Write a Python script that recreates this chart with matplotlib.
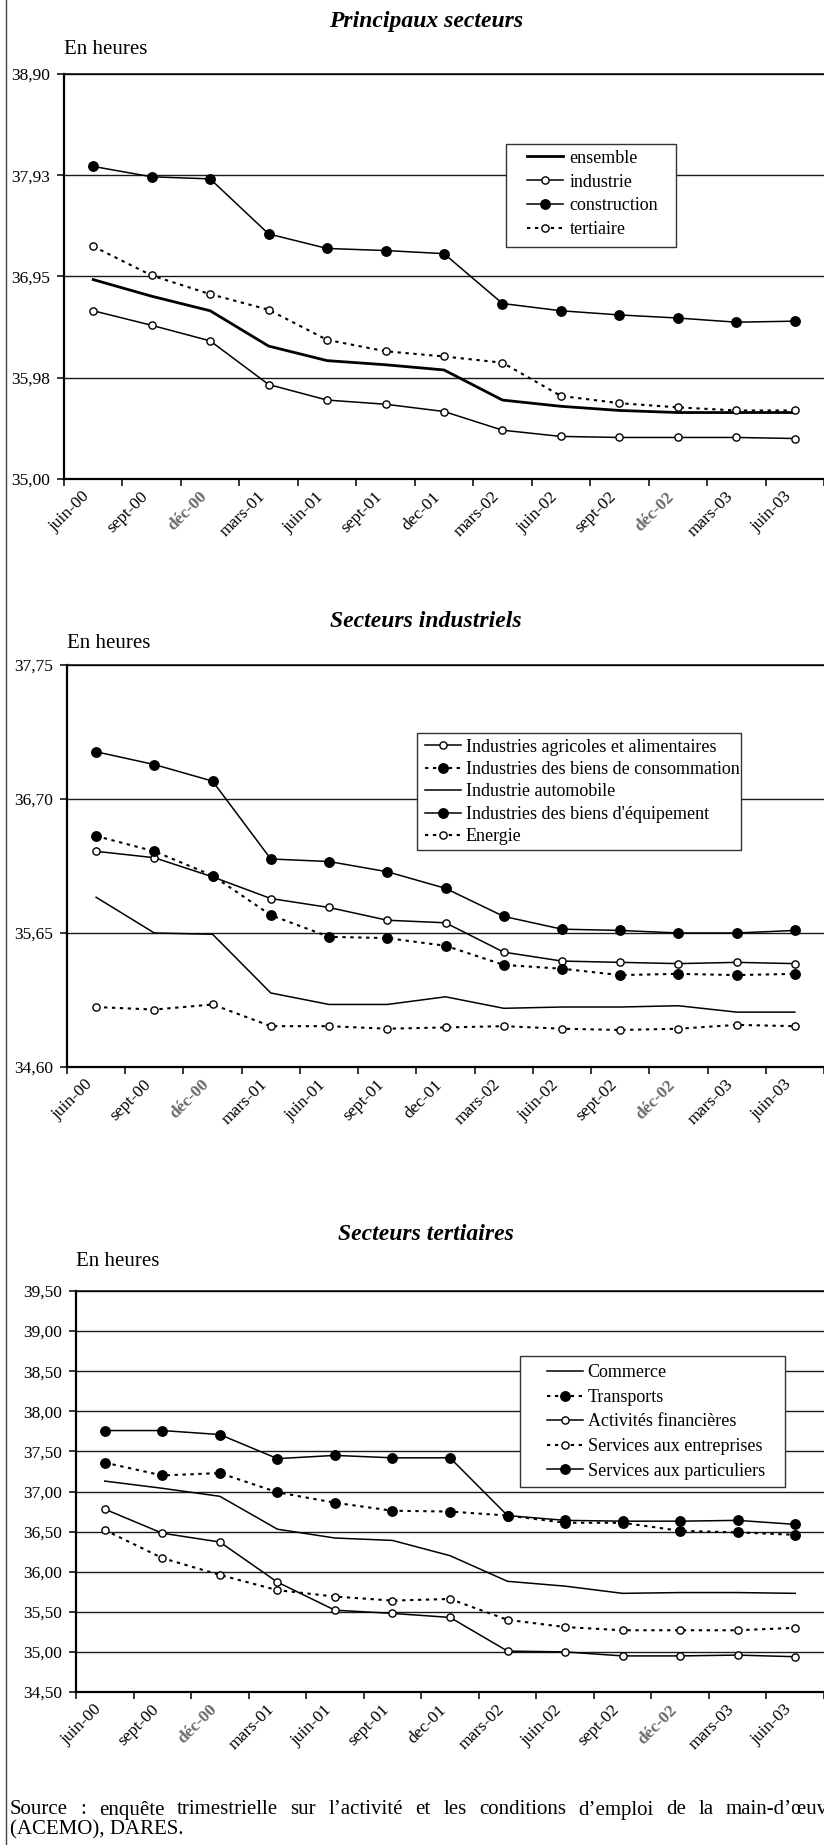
import matplotlib
matplotlib.use("Agg")
import matplotlib.pyplot as plt
import matplotlib.transforms as mtransforms
from matplotlib.lines import Line2D
from matplotlib.patches import Rectangle
import numpy as np

W, H, DPI = 824, 1845, 100

# ---------------- data ----------------
periods = ["juin-00", "sept-00", "déc-00", "mars-01", "juin-01", "sept-01", "dec-01",
           "mars-02", "juin-02", "sept-02", "déc-02", "mars-03", "juin-03"]
smudged = ["déc-00", "déc-02"]

# Principaux secteurs
ensemble = [36.92, 36.76, 36.62, 36.28, 36.14, 36.10, 36.05, 35.76, 35.70, 35.66, 35.64, 35.64, 35.64]
industrie = [36.62, 36.48, 36.33, 35.91, 35.76, 35.72, 35.65, 35.47, 35.41, 35.40, 35.40, 35.40, 35.39]
construction = [38.01, 37.91, 37.89, 37.36, 37.22, 37.20, 37.17, 36.69, 36.62, 36.58, 36.55, 36.51, 36.52]
tertiaire = [37.24, 36.96, 36.78, 36.63, 36.34, 36.23, 36.18, 36.12, 35.80, 35.73, 35.69, 35.66, 35.66]

# Secteurs industriels
agricoles = [36.29, 36.24, 36.09, 35.92, 35.85, 35.75, 35.73, 35.50, 35.43, 35.42, 35.41, 35.42, 35.41]
consommation = [36.41, 36.29, 36.10, 35.79, 35.62, 35.61, 35.55, 35.40, 35.37, 35.32, 35.33, 35.32, 35.33]
automobile = [35.93, 35.65, 35.64, 35.18, 35.09, 35.09, 35.15, 35.06, 35.07, 35.07, 35.08, 35.03, 35.03]
equipement = [37.07, 36.97, 36.84, 36.23, 36.21, 36.13, 36.00, 35.78, 35.68, 35.67, 35.65, 35.65, 35.67]
energie = [35.07, 35.05, 35.09, 34.92, 34.92, 34.90, 34.91, 34.92, 34.90, 34.89, 34.90, 34.93, 34.92]

# Secteurs tertiaires
commerce = [37.13, 37.04, 36.94, 36.53, 36.42, 36.39, 36.20, 35.88, 35.82, 35.73, 35.74, 35.74, 35.73]
transports = [37.36, 37.20, 37.23, 36.99, 36.86, 36.76, 36.75, 36.70, 36.61, 36.61, 36.51, 36.49, 36.46]
financieres = [36.78, 36.48, 36.37, 35.87, 35.52, 35.48, 35.43, 35.01, 35.00, 34.95, 34.95, 34.96, 34.94]
entreprises = [36.52, 36.17, 35.96, 35.77, 35.69, 35.64, 35.66, 35.40, 35.31, 35.27, 35.27, 35.27, 35.30]
particuliers = [37.76, 37.76, 37.71, 37.41, 37.45, 37.42, 37.42, 36.70, 36.64, 36.63, 36.63, 36.64, 36.59]

titles = ["Principaux secteurs", "Secteurs industriels", "Secteurs tertiaires"]
unit_label = "En heures"
source_line1 = "Source : enquête trimestrielle sur l’activité et les conditions d’emploi de la main-d’œuv"
source_line2 = "(ACEMO), DARES."

# ---------------- styles ----------------
plt.rcParams["font.family"] = ["Liberation Serif", "DejaVu Serif"]
K = "black"
DOT = (0, (1.6, 2.2))
STY = {
    "thick": dict(color=K, lw=2.0, ls="-"),
    "solid": dict(color=K, lw=1.1, ls="-"),
    "solid_open": dict(color=K, lw=1.1, ls="-", marker="o", ms=5.2, mfc="white", mec=K, mew=1.0),
    "solid_fill": dict(color=K, lw=1.1, ls="-", marker="o", ms=6.8, mfc=K, mec=K),
    "dot_open": dict(color=K, lw=1.5, ls=DOT, marker="o", ms=5.2, mfc="white", mec=K, mew=1.0),
    "dot_fill": dict(color=K, lw=1.5, ls=DOT, marker="o", ms=6.8, mfc=K, mec=K),
}

fig = plt.figure(figsize=(W / DPI, H / DPI), dpi=DPI)
fig.patch.set_facecolor("white")


def fx(px):
    return px / W


def fy(py):
    return 1 - py / H


def fmt(v):
    return f"{v + 1e-9:.2f}".replace(".", ",")


def make_panel(left, top, bottom, catw, ylim, yticks, series, title, title_y, unit_y,
               legbox, leg_anchor, leg_spacing, leg_textpad):
    ax = fig.add_axes([fx(left), fy(bottom), fx(W - left), (bottom - top) / H])
    x = np.arange(len(periods))
    for label, vals, style in series:
        ax.plot(x, vals, label=label, zorder=3, clip_on=False, **STY[style])
    ax.set_xlim(-0.5, -0.5 + (W - left) / catw)
    ax.set_ylim(*ylim)
    ax.set_yticks(yticks)
    ax.set_yticklabels([fmt(v) for v in yticks], fontsize=12.5)
    for v in yticks[1:]:
        ax.axhline(v, color="#1a1a1a", lw=1.0, zorder=1)
    ax.set_xticks(np.arange(-0.5, len(periods) + 0.5, 1.0))
    ax.set_xticklabels([])
    ax.set_xticks(x, minor=True)
    ax.set_xticklabels(periods, minor=True, rotation=45, ha="right", va="top", fontsize=12.5)
    ax.tick_params(axis="x", which="minor", length=0, pad=7)
    ax.tick_params(axis="x", which="major", length=5, width=1.1, direction="out")
    ax.tick_params(axis="y", length=5, width=1.1, direction="out", pad=5)
    for t in ax.get_xticklabels(minor=True):
        if t.get_text() in smudged:
            t.set_color("#6a6a6a")
            t.set_fontweight("bold")
    for s in ["left", "bottom"]:
        ax.spines[s].set_linewidth(1.6)
    ax.spines["top"].set_linewidth(1.1)
    ax.spines["right"].set_visible(False)

    fig.text(fx(426), fy(title_y), title, ha="center", va="center",
             fontsize=17, fontweight="bold", fontstyle="italic")
    fig.text(fx(left), fy(unit_y), unit_label, ha="left", va="center", fontsize=15)

    bx0, by0, bx1, by1 = legbox
    rect = Rectangle((fx(bx0), fy(by1)), fx(bx1 - bx0), (by1 - by0) / H,
                     transform=fig.transFigure, facecolor="white",
                     edgecolor="#333333", lw=1.0, zorder=5, clip_on=False)
    ax.add_patch(rect)
    handles = [Line2D([], [], **STY[s]) for _, _, s in series]
    labels = [l for l, _, _ in series]
    leg = ax.legend(handles, labels, loc="center left",
                    bbox_to_anchor=(fx(leg_anchor[0]), fy(leg_anchor[1])),
                    bbox_transform=fig.transFigure, frameon=False, borderpad=0,
                    borderaxespad=0, handlelength=2.0, handletextpad=leg_textpad,
                    labelspacing=leg_spacing, fontsize=13, numpoints=1)
    leg.set_zorder(6)
    return ax


make_panel(64, 74, 479, 58.9, (35.0, 38.9), np.linspace(35.0, 38.9, 5),
           [("ensemble", ensemble, "thick"),
            ("industrie", industrie, "solid_open"),
            ("construction", construction, "solid_fill"),
            ("tertiaire", tertiaire, "dot_open")],
           titles[0], 21, 50,
           (506, 144, 676, 247), (527, 194), 0.38, 0.35)

make_panel(67, 665, 1067, 58.5, (34.6, 37.75), np.linspace(34.6, 37.75, 4),
           [("Industries agricoles et alimentaires", agricoles, "solid_open"),
            ("Industries des biens de consommation", consommation, "dot_fill"),
            ("Industrie automobile", automobile, "solid"),
            ("Industries des biens d'équipement", equipement, "solid_fill"),
            ("Energie", energie, "dot_open")],
           titles[1], 621, 644,
           (417, 733, 741, 850), (425, 792), 0.3, 0.25)

make_panel(76, 1291, 1692, 58.1, (34.5, 39.5), np.arange(34.5, 39.51, 0.5),
           [("Commerce", commerce, "solid"),
            ("Transports", transports, "dot_fill"),
            ("Activités financières", financieres, "solid_open"),
            ("Services aux entreprises", entreprises, "dot_open"),
            ("Services aux particuliers", particuliers, "solid_fill")],
           titles[2], 1235, 1262,
           (520, 1356, 785, 1487), (547, 1422), 0.42, 0.25)

# left frame line of the page
fig.add_artist(Line2D([fx(6), fx(6)], [0, 1], transform=fig.transFigure,
                      color="#444444", lw=1.0))

# justified source line (runs to the right edge like the reference)
SRC_FS = 15
fig.canvas.draw()
renderer = fig.canvas.get_renderer()
words = source_line1.split(" ")
tmp = [fig.text(0, 0, w, fontsize=SRC_FS) for w in words]
widths = [t.get_window_extent(renderer).width for t in tmp]
for t in tmp:
    t.remove()
x0, last_start = 10, 726
gap = (last_start - x0 - sum(widths[:-1])) / (len(words) - 1)
xp = x0
for w, wd in zip(words, widths):
    fig.text(fx(xp), fy(1810), w, fontsize=SRC_FS, ha="left", va="center")
    xp += wd + gap
fig.text(fx(x0), fy(1830), source_line2, fontsize=SRC_FS, ha="left", va="center")

fig.savefig("out.png", dpi=DPI)
